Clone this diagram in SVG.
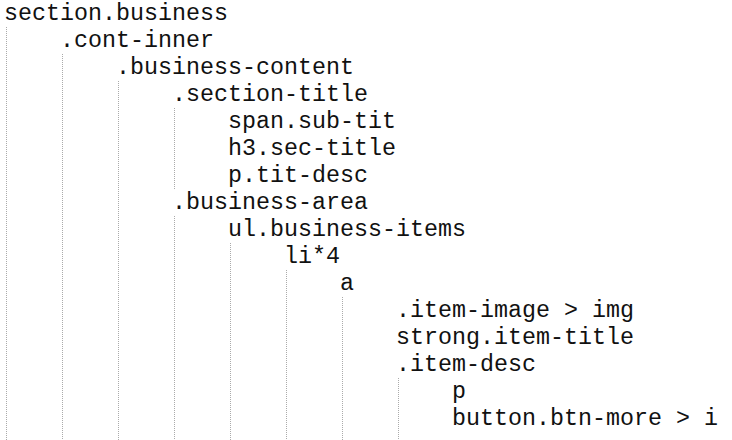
<svg xmlns="http://www.w3.org/2000/svg" width="732" height="440" viewBox="0 0 732 440">
<style>
text{font-family:"Liberation Mono","Courier New",monospace;font-size:23.33px;fill:#111;}
.g{stroke:#aaa;stroke-width:1;stroke-dasharray:1 1;fill:none;}
</style>
<rect width="732" height="440" fill="#fff"/>
<g id="connectors">
<line class="g" x1="6.5" y1="27" x2="6.5" y2="440"/>
<line class="g" x1="62.5" y1="54" x2="62.5" y2="440"/>
<line class="g" x1="118.5" y1="81" x2="118.5" y2="440"/>
<line class="g" x1="174.5" y1="108" x2="174.5" y2="189"/>
<line class="g" x1="174.5" y1="216" x2="174.5" y2="440"/>
<line class="g" x1="230.5" y1="243" x2="230.5" y2="440"/>
<line class="g" x1="286.5" y1="270" x2="286.5" y2="440"/>
<line class="g" x1="342.5" y1="297" x2="342.5" y2="440"/>
<line class="g" x1="398.5" y1="378" x2="398.5" y2="440"/>
</g>
<g id="n-section-business"><text x="4" y="20">section.business</text></g>
<g id="n-cont-inner"><text x="60" y="47">.cont-inner</text></g>
<g id="n-business-content"><text x="116" y="74">.business-content</text></g>
<g id="n-section-title"><text x="172" y="101">.section-title</text></g>
<g id="n-sub-tit"><text x="228" y="128">span.sub-tit</text></g>
<g id="n-sec-title"><text x="228" y="155">h3.sec-title</text></g>
<g id="n-tit-desc"><text x="228" y="182">p.tit-desc</text></g>
<g id="n-business-area"><text x="172" y="209">.business-area</text></g>
<g id="n-business-items"><text x="228" y="236">ul.business-items</text></g>
<g id="n-li"><text x="284" y="263">li*4</text></g>
<g id="n-a"><text x="340" y="290">a</text></g>
<g id="n-item-image"><text x="396" y="317">.item-image &gt; img</text></g>
<g id="n-item-title"><text x="396" y="344">strong.item-title</text></g>
<g id="n-item-desc"><text x="396" y="371">.item-desc</text></g>
<g id="n-p"><text x="452" y="398">p</text></g>
<g id="n-btn-more"><text x="452" y="425">button.btn-more &gt; i</text></g>
</svg>
